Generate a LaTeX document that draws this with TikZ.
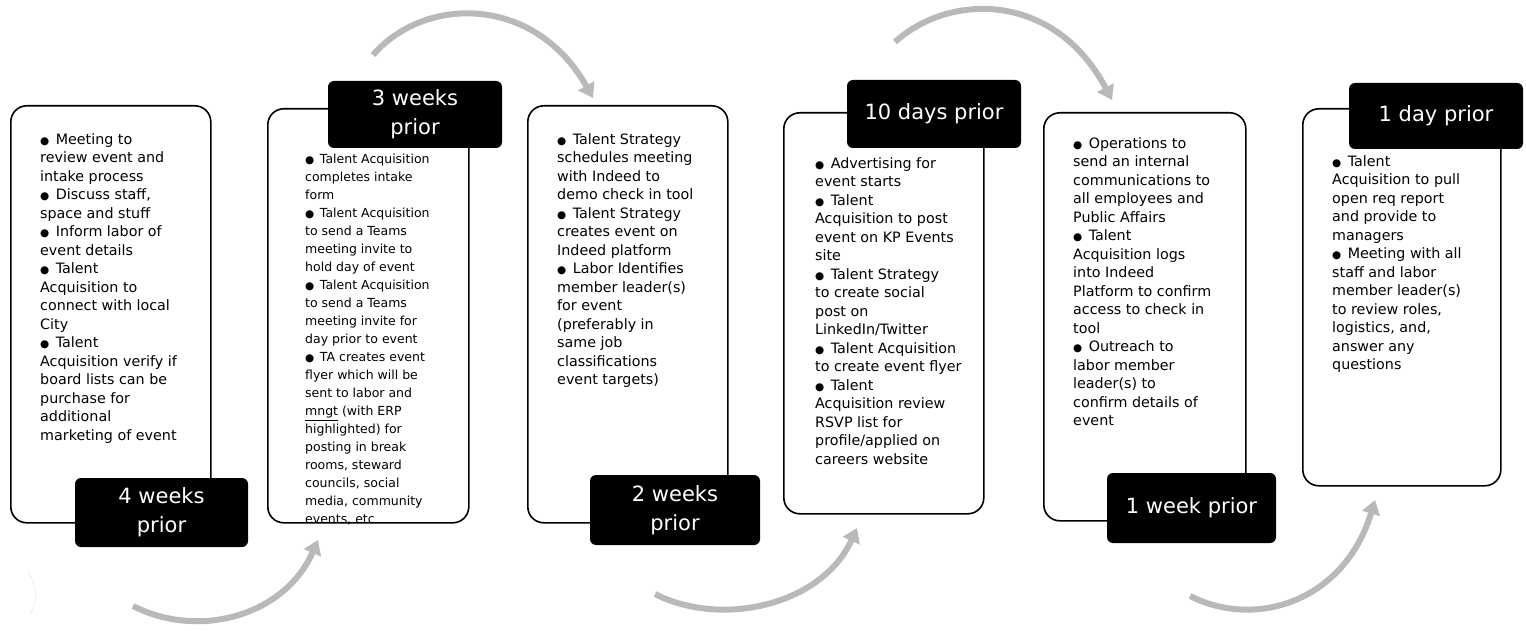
\documentclass[tikz,border=0pt]{standalone}
\usepackage{fontspec}
\setmainfont{DejaVu Sans}
\usetikzlibrary{arrows.meta}
\newcommand{\bul}{{\fontsize{10.5}{10.5}\selectfont ●}\hspace{0.45em}}
\tikzset{
  stage/.style={draw=black, line width=1.6pt, rounded corners=16pt, anchor=north west, inner sep=0pt},
  lbl/.style={fill=black, rounded corners=6pt, text=white, font=\fontsize{21}{29}\selectfont, align=center, inner sep=0pt},
  txt/.style={anchor=north west, align=left, inner sep=0pt, font=\fontsize{14.3}{18.5}\selectfont},
  txtsmall/.style={anchor=north west, align=left, inner sep=0pt, font=\fontsize{12.5}{18}\selectfont},
  flow/.style={draw=gray!55, line width=6pt, -{Triangle[width=18pt,length=14pt]}},
}
\begin{document}
\begin{tikzpicture}[x=1pt,y=-1pt]
\useasboundingbox[fill=white] (0,0) rectangle (1526,631);

% stage boxes
\node[stage, minimum width=200pt, minimum height=417pt] (b1) at (10,105) {};
\node[stage, minimum width=201pt, minimum height=414pt] (b2) at (267,108) {};
\node[stage, minimum width=200pt, minimum height=417pt] (b3) at (527,105) {};
\node[stage, minimum width=200pt, minimum height=401pt] (b4) at (783,112) {};
\node[stage, minimum width=202pt, minimum height=408pt] (b5) at (1043,112) {};
\node[stage, minimum width=198pt, minimum height=377pt] (b6) at (1302,108) {};

% texts
\node[txt] (t1) at (40,133) {\bul Meeting to\\review event and\\intake process\\\bul Discuss staff,\\space and stuff\\\bul Inform labor of\\event details\\\bul Talent\\Acquisition to\\connect with local\\City\\\bul Talent\\Acquisition verify if\\board lists can be\\purchase for\\additional\\marketing of event};

\node[txtsmall] (t2) at (305,154) {\bul Talent Acquisition\\completes intake\\form\\\bul Talent Acquisition\\to send a Teams\\meeting invite to\\hold day of event\\\bul Talent Acquisition\\to send a Teams\\meeting invite for\\day prior to event\\\bul TA creates event\\flyer which will be\\sent to labor and\\\underline{mngt} (with ERP\\highlighted) for\\posting in break\\rooms, steward\\councils, social\\media, community\\events, etc};

\node[txt] (t3) at (557,133) {\bul Talent Strategy\\schedules meeting\\with Indeed to\\demo check in tool\\\bul Talent Strategy\\creates event on\\Indeed platform\\\bul Labor Identifies\\member leader(s)\\for event\\(preferably in\\same job\\classifications\\event targets)};

\node[txt] (t4) at (815,157) {\bul Advertising for\\event starts\\\bul Talent\\Acquisition to post\\event on KP Events\\site\\\bul Talent Strategy\\to create social\\post on\\LinkedIn/Twitter\\\bul Talent Acquisition\\to create event flyer\\\bul Talent\\Acquisition review\\RSVP list for\\profile/applied on\\careers website};

\node[txt] (t5) at (1073,137) {\bul Operations to\\send an internal\\communications to\\all employees and\\Public Affairs\\\bul Talent\\Acquisition logs\\into Indeed\\Platform to confirm\\access to check in\\tool\\\bul Outreach to\\labor member\\leader(s) to\\confirm details of\\event};

\node[txt] (t6) at (1332,155) {\bul Talent\\Acquisition to pull\\open req report\\and provide to\\managers\\\bul Meeting with all\\staff and labor\\member leader(s)\\to review roles,\\logistics, and,\\answer any\\questions};

% labels
\node[lbl, minimum width=173pt, minimum height=69pt] (l1) at (161.5,512.5) {4 weeks\\prior};
\node[lbl, minimum width=174pt, minimum height=67pt] (l2) at (415,114.5) {3 weeks\\prior};
\node[lbl, minimum width=170pt, minimum height=70pt] (l3) at (675,510) {2 weeks\\prior};
\node[lbl, minimum width=174pt, minimum height=68pt] (l4) at (934,114) {10 days prior};
\node[lbl, minimum width=169pt, minimum height=70pt] (l5) at (1191.5,508) {1 week prior};
\node[lbl, minimum width=174pt, minimum height=66pt] (l6) at (1436,116) {1 day prior};

% arrows
\coordinate (a1s) at (133,606); \coordinate (a1e) at (318,540);
\coordinate (a2s) at (373,55);  \coordinate (a2e) at (593,98);
\coordinate (a3s) at (655,594); \coordinate (a3e) at (857,528);
\coordinate (a4s) at (895,42);  \coordinate (a4e) at (1112,100);
\coordinate (a5s) at (1190,596); \coordinate (a5e) at (1375,500);
\draw[flow] (a1s) .. controls (200,640) and (285,615) .. (a1e);
\draw[flow] (a2s) .. controls (425,-5) and (535,-5) .. (a2e);
\draw[flow] (a3s) .. controls (722,628) and (822,605) .. (a3e);
\draw[flow] (a4s) .. controls (950,-8) and (1055,-8) .. (a4e);
\draw[flow] (a5s) .. controls (1257,630) and (1345,600) .. (a5e);

% faint scan mark
\draw[gray!60, line width=0.6pt, dotted] (28,572) .. controls (38,585) and (38,600) .. (30,614);
\end{tikzpicture}
\end{document}
